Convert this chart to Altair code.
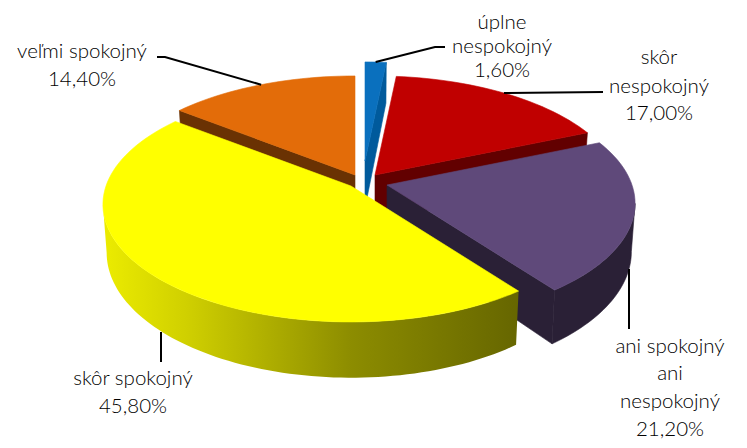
import math
import altair as alt

# data
categories = ["úplne nespokojný", "skôr nespokojný", "ani spokojný ani nespokojný", "skôr spokojný", "veľmi spokojný"]
shares = [1.6, 17.0, 21.2, 45.8, 14.4]
value_labels = ["1,60%", "17,00%", "21,20%", "45,80%", "14,40%"]
label_lines = [["úplne", "nespokojný"], ["skôr", "nespokojný"], ["ani spokojný", "ani", "nespokojný"], ["skôr spokojný"], ["veľmi spokojný"]]

# drawing style
top_colors = ["#0A70BE", "#C00000", "#5F497A", "#FFFF00", "#E36C09"]
cut_colors = ["#005A9C", "#620000", "#2A2036", None, "#6A3203"]
tips = [(365, 161), (375, 175), (387, 185), (351, 186), (355, 175)]
label_x = [502, 659, 670, 133, 82]
label_base = [[29, 53, 77], [64, 93, 120], [353, 380, 408, 436], [385, 413], [58, 86]]
RX, RY, PERSP, DEPTH, SHRINK = 245, 114.6, 0.157, 47, 0.985
OFF = 8

# angular spans from the shares
edges = [0.0]
for s in shares:
    edges.append(edges[-1] + s * 3.6)

# the outer wall is only seen between the two silhouette angles of the disc
SIL_R = math.degrees(math.acos(-PERSP))
SIL_L = 360 - SIL_R


def rim(i, deg, bottom=False):
    t = math.radians(deg)
    u, v = math.sin(t), math.cos(t)
    w = 1 + PERSP * v
    tx, ty = tips[i]
    if bottom:
        return [tx + SHRINK * RX * u / w - OFF, ty - RY * v / w + DEPTH / w - OFF]
    return [tx + RX * u / w - OFF, ty - RY * v / w - OFF]


def poly(pts, fill):
    pts = list(pts)
    pts.append(pts[0])
    return {"type": "Feature", "properties": {"fill": fill},
            "geometry": {"type": "Polygon", "coordinates": [pts]}}


def wall(i):
    a, b = max(edges[i], SIL_R), min(edges[i + 1], SIL_L)
    n = int((b - a) / 1.5) + 1
    upper = [rim(i, a + (b - a) * k / n) for k in range(n + 1)]
    lower = [rim(i, a + (b - a) * k / n, True) for k in range(n, -1, -1)]
    return upper + lower


def top_face(i):
    a, b = edges[i], edges[i + 1]
    tx, ty = tips[i]
    n = max(4, int((b - a) / 2))
    return [[tx - OFF, ty - OFF]] + [rim(i, a + (b - a) * k / n) for k in range(n + 1)]


def cut_face(i, deg):
    tx, ty = tips[i]
    return [[tx - OFF, ty - OFF], rim(i, deg), rim(i, deg, True), [tx - OFF, ty + DEPTH - OFF]]


back = []
back.append(poly(cut_face(4, edges[4]), cut_colors[4]))
back.append(poly(top_face(4), top_colors[4]))
back.append(poly(cut_face(0, edges[1]), cut_colors[0]))
back.append(poly(top_face(0), top_colors[0]))
back.append(poly(cut_face(1, edges[2]), cut_colors[1]))
back.append(poly(top_face(1), top_colors[1]))
back.append(poly(cut_face(2, edges[3]), cut_colors[2]))
back.append(poly(wall(2), cut_colors[2]))
back.append(poly(top_face(2), top_colors[2]))

yellow_wall = [poly(wall(3), "wall")]
yellow_top = [poly(top_face(3), top_colors[3])]

mid = [(edges[i] + edges[i + 1]) / 2 for i in range(5)]
leaders = [
    [rim(0, mid[0]), [435 - OFF, 47 - OFF], [445 - OFF, 47 - OFF]],
    [rim(1, mid[1]), [603 - OFF, 92 - OFF]],
    [[629 - OFF, 269 - OFF], [629 - OFF, 329 - OFF]],
    [[161 - OFF, 332 - OFF], [161 - OFF, 362 - OFF]],
    [rim(4, mid[4]), [165 - OFF, 57 - OFF], [157 - OFF, 57 - OFF]],
]
leader_feats = [{"type": "Feature", "properties": {},
                 "geometry": {"type": "LineString", "coordinates": l}} for l in leaders]

texts = []
for i in range(5):
    lines = label_lines[i] + [value_labels[i]]
    for j, line in enumerate(lines):
        texts.append({"t": line, "px": label_x[i] - OFF, "py": label_base[i][j] - OFF})

PROJ = dict(type="identity", scale=1, translate=[0, 0])

back_layer = alt.Chart(alt.Data(values=back)).mark_geoshape(strokeWidth=0.6).encode(
    fill=alt.Color("properties.fill:N", scale=None),
    stroke=alt.Color("properties.fill:N", scale=None),
).project(**PROJ)

wall_layer = alt.Chart(alt.Data(values=yellow_wall)).mark_geoshape(
    strokeWidth=0,
    color=alt.Gradient(
        gradient="linear", x1=0, x2=1, y1=0, y2=0,
        stops=[
            alt.GradientStop(offset=0, color="#ecec00"),
            alt.GradientStop(offset=0.2, color="#d0d000"),
            alt.GradientStop(offset=0.6, color="#8c8c00"),
            alt.GradientStop(offset=1, color="#666600"),
        ],
    ),
).project(**PROJ)

top_layer = alt.Chart(alt.Data(values=yellow_top)).mark_geoshape(
    fill="#FFFF00", stroke="#FFFF00", strokeWidth=0.6
).project(**PROJ)

lead = alt.Chart(alt.Data(values=leader_feats)).mark_geoshape(
    filled=False, stroke="#000000", strokeWidth=2
).project(**PROJ)

labels = alt.Chart(alt.Data(values=texts)).mark_text(
    font="Lato", fontSize=20.5, fontWeight=300, color="#000000", align="center", baseline="alphabetic"
).encode(
    x=alt.X("px:Q", scale=None),
    y=alt.Y("py:Q", scale=None),
    text="t:N",
)

chart = alt.layer(back_layer, wall_layer, top_layer, lead, labels).properties(
    width=731, height=432, padding=0, background="#ffffff",
    autosize=alt.AutoSizeParams(type="none"),
).configure_view(stroke=None)

chart.save("out.html", embed_options={"renderer": "svg", "actions": False})
